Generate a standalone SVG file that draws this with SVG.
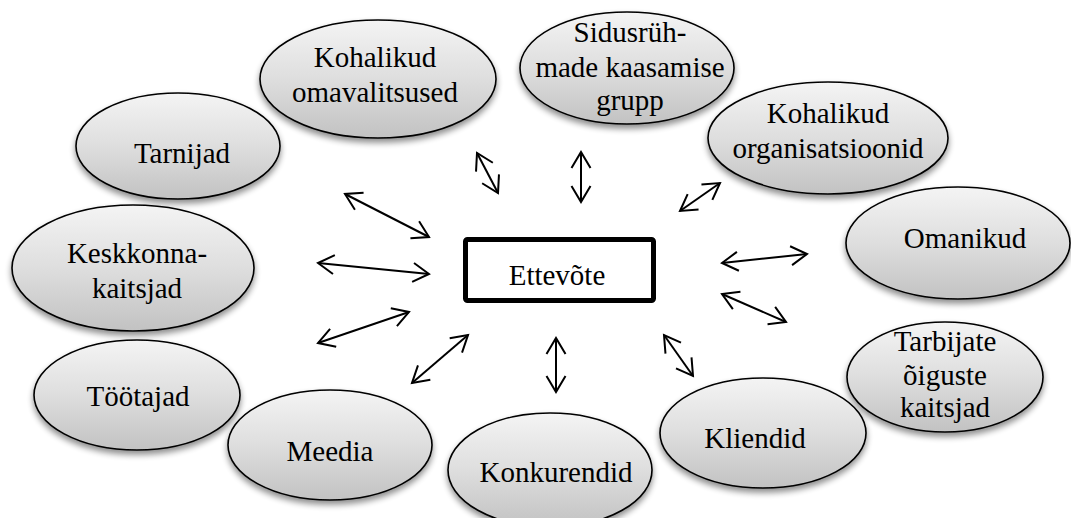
<svg xmlns="http://www.w3.org/2000/svg" width="1071" height="518" viewBox="0 0 1071 518">
<style>
.n ellipse{fill:url(#g);stroke:#000;stroke-width:1.6;filter:url(#sh)}
.con line{stroke:#000;stroke-width:2;marker-start:url(#ah);marker-end:url(#ah)}
</style>
<defs>
<linearGradient id="g" x1="0" y1="0" x2="0" y2="1">
<stop offset="0" stop-color="#f4f4f4"/>
<stop offset="0.5" stop-color="#dedede"/>
<stop offset="1" stop-color="#c2c2c2"/>
</linearGradient>
<filter id="sh" x="-10%" y="-10%" width="120%" height="130%">
<feGaussianBlur in="SourceAlpha" stdDeviation="3"/>
<feOffset dy="4" result="b"/>
<feComponentTransfer><feFuncA type="linear" slope="0.45"/></feComponentTransfer>
<feMerge><feMergeNode/><feMergeNode in="SourceGraphic"/></feMerge>
</filter>
<marker id="ah" markerUnits="userSpaceOnUse" markerWidth="24" markerHeight="24" viewBox="-20 -12 24 24" refX="0" refY="0" orient="auto-start-reverse" overflow="visible">
<path d="M-16,-9.5 L0,0 L-16,9.5" fill="none" stroke="#000" stroke-width="2"/>
</marker>
</defs>
<rect width="1071" height="518" fill="#fff"/>
<g class="con" id="connectors">
<line x1="345" y1="194" x2="429" y2="237"/>
<line x1="318" y1="263" x2="429" y2="274"/>
<line x1="318" y1="343" x2="409" y2="312"/>
<line x1="477" y1="153" x2="498" y2="193"/>
<line x1="581" y1="152" x2="581" y2="202"/>
<line x1="680" y1="211" x2="720" y2="183"/>
<line x1="722" y1="263" x2="807" y2="254"/>
<line x1="722" y1="294" x2="786" y2="322"/>
<line x1="664" y1="335" x2="693" y2="376"/>
<line x1="556" y1="338" x2="556" y2="392"/>
<line x1="412" y1="383" x2="468" y2="335"/>
</g>
<g font-family="Liberation Serif, Times New Roman, serif" font-size="29" fill="#000" text-anchor="middle">
<g id="center">
<rect x="465.5" y="239.5" width="188" height="61" rx="2" fill="#fff" stroke="#000" stroke-width="5"/>
<text x="557" y="285">Ettevõte</text>
</g>
<g class="n" id="kohalikud-omavalitsused">
<ellipse cx="378" cy="79" rx="118" ry="59"/>
<text x="375" y="67">Kohalikud</text>
<text x="375" y="102">omavalitsused</text>
</g>
<g class="n" id="sidusryhmad">
<ellipse cx="627" cy="68" rx="107" ry="56"/>
<text x="630" y="42">Sidusrüh-</text>
<text x="630" y="77">made kaasamise</text>
<text x="630" y="110">grupp</text>
</g>
<g class="n" id="kohalikud-organisatsioonid">
<ellipse cx="828" cy="138" rx="120" ry="56"/>
<text x="828" y="123">Kohalikud</text>
<text x="828" y="158">organisatsioonid</text>
</g>
<g class="n" id="tarnijad">
<ellipse cx="178" cy="146" rx="102" ry="53"/>
<text x="182" y="163">Tarnijad</text>
</g>
<g class="n" id="omanikud">
<ellipse cx="958" cy="243" rx="112" ry="56"/>
<text x="965" y="248">Omanikud</text>
</g>
<g class="n" id="keskkonnakaitsjad">
<ellipse cx="133" cy="268" rx="121" ry="63"/>
<text x="137" y="263">Keskkonna-</text>
<text x="137" y="298">kaitsjad</text>
</g>
<g class="n" id="tarbijate">
<ellipse cx="945" cy="377" rx="98" ry="55"/>
<text x="945" y="351">Tarbijate</text>
<text x="945" y="385">õiguste</text>
<text x="945" y="417">kaitsjad</text>
</g>
<g class="n" id="tootajad">
<ellipse cx="137" cy="395" rx="103" ry="55"/>
<text x="138" y="406">Töötajad</text>
</g>
<g class="n" id="meedia">
<ellipse cx="330" cy="445" rx="102" ry="55"/>
<text x="330" y="461">Meedia</text>
</g>
<g class="n" id="konkurendid">
<ellipse cx="550" cy="470" rx="102" ry="57"/>
<text x="556" y="482">Konkurendid</text>
</g>
<g class="n" id="kliendid">
<ellipse cx="763" cy="433" rx="103" ry="55"/>
<text x="755" y="448">Kliendid</text>
</g>
</g>
</svg>
